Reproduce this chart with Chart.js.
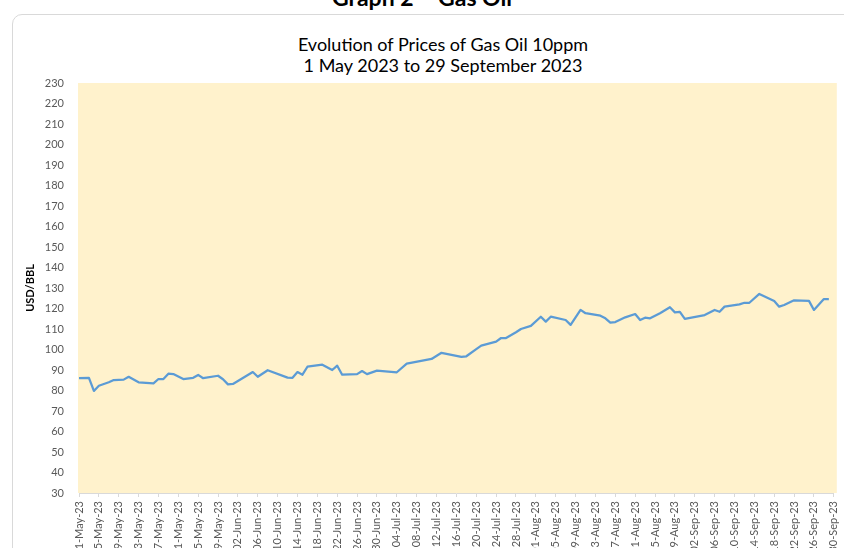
<!DOCTYPE html>
<html>
<head>
<meta charset="utf-8">
<script src="https://cdn.jsdelivr.net/npm/chart.js@4.4.0/dist/chart.umd.min.js"></script>
<style>
  html, body { margin: 0; padding: 0; }
  body { width: 844px; height: 548px; overflow: hidden; background: #fff; position: relative; font-family: Lato, "Open Sans", sans-serif; }
  .heading { position: absolute; left: 0; width: 844px; top: -15px; text-align: center; font-weight: bold; font-size: 23px; line-height: 24px; color: #000; }
  .card { position: absolute; left: 12px; top: 14px; width: 1000px; height: 700px; border: 1px solid #d9d9d9; border-radius: 10px; box-sizing: border-box; }
  .title { position: absolute; left: 0; width: 886px; top: 34px; text-align: center; font-size: 18px; line-height: 21px; color: #000; }
  #chart { position: absolute; left: 0; top: 0; }
</style>
</head>
<body>
<div class="heading">Graph 2 – Gas Oil</div>
<div class="card"></div>
<div class="title">Evolution of Prices of Gas Oil 10ppm<br>1 May 2023 to 29 September 2023</div>
<canvas id="chart" width="851" height="560"></canvas>
<script>
const months = ['May', 'Jun', 'Jul', 'Aug', 'Sep'];
const monthDays = [31, 30, 31, 31, 30];
const yearSuffix = '23';

const priceDates = [
  '01-May-23', '03-May-23', '04-May-23', '05-May-23', '07-May-23', '08-May-23', '10-May-23', '11-May-23',
  '13-May-23', '16-May-23', '17-May-23', '18-May-23', '19-May-23', '20-May-23', '22-May-23', '24-May-23',
  '25-May-23', '26-May-23', '29-May-23', '30-May-23', '31-May-23', '01-Jun-23', '05-Jun-23', '06-Jun-23',
  '08-Jun-23', '12-Jun-23', '13-Jun-23', '14-Jun-23', '15-Jun-23', '16-Jun-23', '19-Jun-23', '21-Jun-23',
  '22-Jun-23', '23-Jun-23', '26-Jun-23', '27-Jun-23', '28-Jun-23', '30-Jun-23', '04-Jul-23', '06-Jul-23',
  '11-Jul-23', '13-Jul-23', '17-Jul-23', '18-Jul-23', '20-Jul-23', '21-Jul-23', '24-Jul-23', '25-Jul-23',
  '26-Jul-23', '28-Jul-23', '29-Jul-23', '31-Jul-23', '02-Aug-23', '03-Aug-23', '04-Aug-23', '07-Aug-23',
  '08-Aug-23', '10-Aug-23', '11-Aug-23', '14-Aug-23', '15-Aug-23', '16-Aug-23', '17-Aug-23', '19-Aug-23',
  '21-Aug-23', '22-Aug-23', '23-Aug-23', '24-Aug-23', '26-Aug-23', '28-Aug-23', '29-Aug-23', '30-Aug-23',
  '31-Aug-23', '04-Sep-23', '06-Sep-23', '07-Sep-23', '08-Sep-23', '11-Sep-23', '12-Sep-23', '13-Sep-23',
  '15-Sep-23', '18-Sep-23', '19-Sep-23', '20-Sep-23', '22-Sep-23', '25-Sep-23', '26-Sep-23', '28-Sep-23',
  '29-Sep-23'
];
const priceValues = [
  86.0, 86.2, 79.8, 82.3, 84.0, 85.1, 85.3, 86.7,
  84.0, 83.5, 85.6, 85.6, 88.2, 88.0, 85.6, 86.2,
  87.6, 86.0, 87.2, 85.5, 83.0, 83.2, 89.0, 86.7,
  89.9, 86.3, 86.2, 89.0, 87.7, 91.6, 92.6, 90.0,
  92.1, 87.7, 88.0, 89.5, 88.0, 89.7, 88.9, 93.1,
  95.4, 98.4, 96.4, 96.7, 100.2, 101.9, 103.8, 105.6,
  105.6, 108.4, 110.0, 111.5, 116.0, 113.6, 116.0, 114.4,
  112.0, 119.3, 117.7, 116.5, 115.2, 113.1, 113.4, 115.7,
  117.3, 114.4, 115.5, 115.2, 117.7, 120.6, 118.1, 118.4,
  114.9, 116.8, 119.3, 118.4, 120.9, 122.0, 122.8, 122.8,
  127.1, 123.7, 120.9, 121.7, 124.0, 123.7, 119.3, 124.6,
  124.6
];

const yMin = 30;
const yMax = 230;
const yStep = 10;
const tickEvery = 4;

// one category per calendar day, 01-May-23 .. 30-Sep-23
const dayLabels = [];
months.forEach((m, i) => {
  for (let d = 1; d <= monthDays[i]; d++) {
    dayLabels.push(String(d).padStart(2, '0') + '-' + m + '-' + yearSuffix);
  }
});

const plotBackground = {
  id: 'plotBackground',
  beforeDraw(chart) {
    const { ctx, chartArea } = chart;
    ctx.save();
    ctx.fillStyle = '#fff2cc';
    ctx.fillRect(chartArea.left - 1, chartArea.top, chartArea.right - chartArea.left + 4, chartArea.bottom - chartArea.top);
    ctx.restore();
  }
};

const ctx = document.getElementById('chart').getContext('2d');
new Chart(ctx, {
  type: 'line',
  data: {
    labels: dayLabels,
    datasets: [{
      label: 'Gas Oil 10ppm',
      data: priceDates.map((d, i) => ({ x: d, y: priceValues[i] })),
      borderColor: '#5b9bd5',
      borderWidth: 2.25,
      borderJoinStyle: 'round',
      pointRadius: 0,
      tension: 0,
      fill: false
    }]
  },
  options: {
    responsive: false,
    animation: false,
    devicePixelRatio: 1,
    layout: { padding: { top: 83, left: 20, right: 0, bottom: 0 } },
    plugins: {
      legend: { display: false },
      tooltip: { enabled: false }
    },
    scales: {
      x: {
        type: 'category',
        afterFit(scale) { scale.height = 67; },
        grid: {
          drawOnChartArea: false,
          drawTicks: true,
          tickLength: 4,
          color: c => (c.index % tickEvery === 0 ? '#d9d9d9' : 'rgba(0,0,0,0)')
        },
        border: { display: true, color: '#d9d9d9' },
        ticks: {
          autoSkip: false,
          minRotation: 90,
          maxRotation: 90,
          padding: 4,
          color: '#595959',
          font: { family: 'Lato', size: 11 },
          callback: function (val, idx) {
            return idx % tickEvery === 0 ? this.getLabelForValue(val) : '';
          }
        }
      },
      y: {
        min: yMin,
        max: yMax,
        afterFit(scale) { scale.width = 59; },
        grid: { display: false, drawTicks: false },
        border: { display: false },
        ticks: {
          stepSize: yStep,
          padding: 15,
          color: '#595959',
          font: { family: 'Lato', size: 11 }
        },
        title: {
          display: true,
          text: 'USD/BBL',
          color: '#000',
          font: { family: 'Lato', size: 11, weight: 'bold' },
          padding: { top: 4, bottom: 4 }
        }
      }
    }
  },
  plugins: [plotBackground]
});
</script>
</body>
</html>
